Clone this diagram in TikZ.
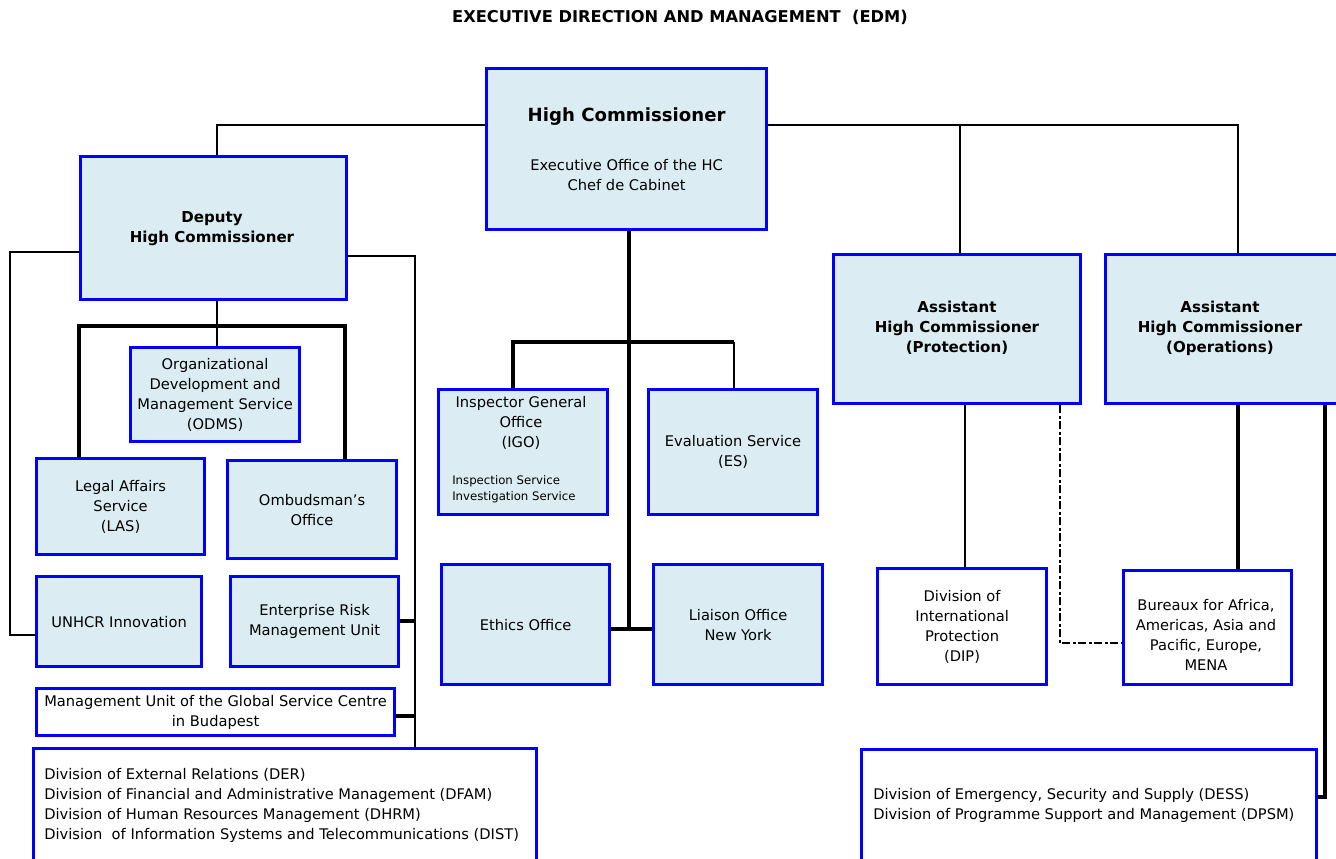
\documentclass[tikz,border=0pt]{standalone}
\usepackage{fontspec}
\setmainfont{DejaVu Sans}
\definecolor{boxfill}{RGB}{219,237,243}
\definecolor{boxblue}{RGB}{0,0,255}
\tikzset{
  orgbox/.style={draw=boxblue, line width=2.4pt, fill=boxfill, align=center, inner sep=0pt,
    font=\fontsize{11}{15}\selectfont},
  whitebox/.style={orgbox, fill=white},
  txt/.style={align=center, inner sep=0pt, font=\fontsize{11}{15}\selectfont},
  boldtxt/.style={align=center, inner sep=0pt, font=\fontsize{11.3}{15}\selectfont\bfseries},
  conn/.style={line width=1.5pt, black},
  thickconn/.style={line width=2.4pt, black},
  dashdotconn/.style={line width=1.8pt, black, dash pattern=on 6pt off 2pt on 2pt off 2pt},
}
\newcommand{\orgnode}[7]{\node[#6, anchor=north west, minimum width={(#4-#2)*0.75pt}, minimum height={(#5-#3)*0.75pt}] (#1) at (#2,#3) {#7};}
\begin{document}
\begin{tikzpicture}[x=0.75pt,y=-0.75pt]
\clip (0,0) rectangle (1336,859);
\fill[white] (0,0) rectangle (1336,859);
% title
\node[inner sep=0pt, font=\fontsize{12.2}{14}\selectfont\bfseries] (title) at (680,17) {EXECUTIVE DIRECTION AND MANAGEMENT\ \ (EDM)};

% boxes
\orgnode{hc}{485}{67}{765}{228}{orgbox}{{\fontsize{13.6}{16}\selectfont\bfseries High Commissioner}\\[22pt]Executive Office of the HC\\Chef de Cabinet}
\orgnode{dep}{79}{155}{345}{298}{orgbox}{}
\node[boldtxt] (deptext) at (212,229) {Deputy\\High Commissioner};
\orgnode{odms}{129}{346}{298}{440}{orgbox}{Organizational\\Development and\\Management Service\\(ODMS)}
\orgnode{legal}{35}{457}{203}{553}{orgbox}{Legal Affairs\\Service\\(LAS)}
\orgnode{ombud}{226}{459}{395}{557}{orgbox}{Ombudsman's\\Office}
\orgnode{innov}{35}{575}{200}{665}{orgbox}{UNHCR Innovation}
\orgnode{erm}{229}{575}{397}{665}{orgbox}{Enterprise Risk\\Management Unit}
\orgnode{gsc}{35}{687}{393}{734}{whitebox}{Management Unit of the Global Service Centre\\in Budapest}
\orgnode{der}{32}{747}{535}{880}{whitebox}{}
\node[txt, align=left, anchor=west] (dertext) at (44,805) {Division of External Relations (DER)\\Division of Financial and Administrative Management (DFAM)\\Division of Human Resources Management (DHRM)\\Division\ \ of Information Systems and Telecommunications (DIST)};

\orgnode{igo}{437}{388}{606}{513}{orgbox}{}
\node[txt] (igotitle) at (521,423) {Inspector General\\Office\\(IGO)};
\node[inner sep=0pt, align=left, anchor=west, font=\fontsize{8.8}{12}\selectfont] (igosub) at (452,489) {Inspection Service\\Investigation Service};
\orgnode{es}{647}{388}{816}{513}{orgbox}{Evaluation Service\\(ES)}
\orgnode{ethics}{440}{563}{608}{683}{orgbox}{Ethics Office}
\orgnode{liaison}{652}{563}{821}{683}{orgbox}{Liaison Office\\New York}

\orgnode{ahcp}{832}{253}{1079}{402}{orgbox}{}
\node[boldtxt] (ahcptext) at (957,328) {Assistant\\High Commissioner\\(Protection)};
\orgnode{ahco}{1104}{253}{1345}{402}{orgbox}{}
\node[boldtxt] (ahcotext) at (1220,328) {Assistant\\High Commissioner\\(Operations)};
\orgnode{dip}{876}{567}{1045}{683}{whitebox}{Division of\\International\\Protection\\(DIP)}
\orgnode{bur}{1122}{569}{1290}{683}{whitebox}{}
\node[txt] (burtext) at (1206,635) {Bureaux for Africa,\\Americas, Asia and\\Pacific, Europe,\\MENA};
\orgnode{dess}{860}{748}{1315}{880}{whitebox}{}
\node[txt, align=left, anchor=west] (desstext) at (873,805) {Division of Emergency, Security and Supply (DESS)\\Division of Programme Support and Management (DPSM)};

% helper coordinates
\coordinate (topL) at (217,125);
\coordinate (topP) at (960,125);
\coordinate (topO) at (1238,125);
\coordinate (depx) at (217,0);
\coordinate (opsx) at (1238,0);
\coordinate (protx) at (960,0);
\coordinate (lrailT) at (10,252);
\coordinate (lrailB) at (10,635);
\coordinate (rrailT) at (415,256);
\coordinate (rrailE) at (415,621);
\coordinate (rrailG) at (415,716);
\coordinate (barL) at (79,326);
\coordinate (barM) at (217,326);
\coordinate (barR) at (345,326);
\coordinate (hcx) at (629,0);
\coordinate (igoL) at (513,342);
\coordinate (esR) at (734,342);
\coordinate (hcend) at (629,629);
\coordinate (dipx) at (965,0);
\coordinate (dashx) at (1060,0);
\coordinate (dashB) at (1060,643);
\coordinate (orailx) at (1325,0);
\coordinate (orailB) at (1325,797);

% HC to top level
\draw[conn] (hc.west |- topL) -- (topL) -- (dep.north -| depx);
\draw[conn] (hc.east |- topP) -- (topO) -- (ahco.north -| opsx);
\draw[conn] (topP) -- (ahcp.north -| protx);

% deputy left rail
\draw[conn] (dep.west |- lrailT) -- (lrailT) -- (lrailB) -- (innov.west |- lrailB);
% deputy right rail
\draw[conn] (dep.east |- rrailT) -- (rrailT) -- (der.north -| rrailT);
\draw[thickconn] (erm.east |- rrailE) -- (rrailE);
\draw[thickconn] (gsc.east |- rrailG) -- (rrailG);
% deputy bottom
\draw[conn] (dep.south -| depx) -- (barM) -- (odms.north -| barM);
\draw[thickconn] (legal.north -| barL) -- (barL) -- (barR) -- (ombud.north -| barR);

% HC bottom
\draw[thickconn] (hc.south -| hcx) -- (hcend);
\draw[thickconn] (igo.north -| igoL) -- (igoL) -- (esR);
\draw[conn] (esR) -- (es.north -| esR);
\draw[thickconn] (ethics.east |- hcend) -- (liaison.west |- hcend);

% AHC protection
\draw[conn] (ahcp.south -| dipx) -- (dip.north -| dipx);
\draw[dashdotconn] (ahcp.south -| dashx) -- (dashB) -- (bur.west |- dashB);
% AHC operations
\draw[thickconn] (ahco.south -| opsx) -- (bur.north -| opsx);
\draw[thickconn] (ahco.south -| orailx) -- (orailB) -- (dess.east |- orailB);
\end{tikzpicture}
\end{document}
